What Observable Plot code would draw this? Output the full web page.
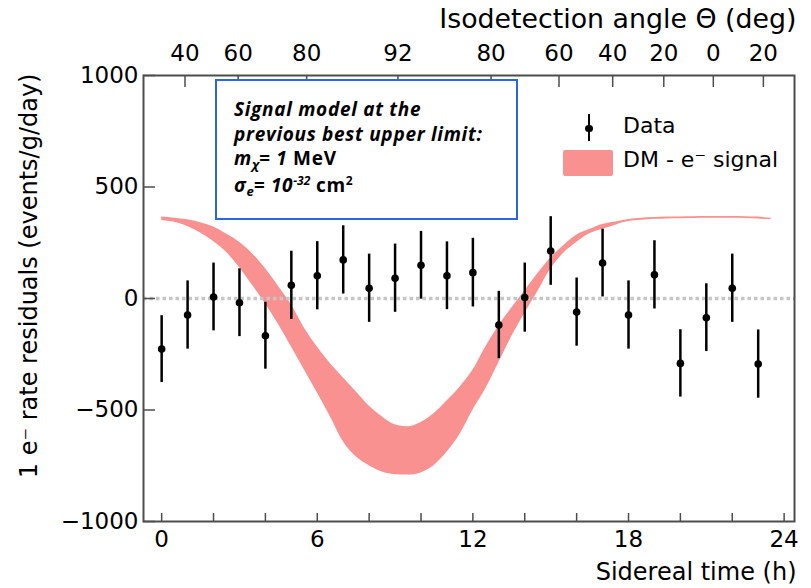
<!DOCTYPE html>
<html><head><meta charset="utf-8">
<script src="https://cdn.jsdelivr.net/npm/d3@7"></script>
<script src="https://cdn.jsdelivr.net/npm/@observablehq/plot@0.6"></script>
<style>
html,body{margin:0;padding:0;background:#fff;}
#wrap{position:relative;width:811px;height:588px;overflow:hidden;font-family:"DejaVu Sans",sans-serif;color:#000;}
#wrap svg{position:absolute;left:0;top:0;}
.box{position:absolute;left:215px;top:79px;width:303px;height:141px;box-sizing:border-box;border:2px solid #2a68e0;background:#fff;
  font-family:"Open Sans",sans-serif;font-weight:700;font-style:italic;font-size:19px;letter-spacing:0.7px;line-height:24.5px;padding:16px 0 0 17px;white-space:nowrap;}
.box .up{font-style:normal;}
.box .sub{font-size:13px;position:relative;top:4px;letter-spacing:0;}
.box .sup{font-size:12px;position:relative;top:-7px;letter-spacing:0;}
.leg{position:absolute;font-family:"DejaVu Sans",sans-serif;font-size:22px;line-height:22px;white-space:nowrap;}
.legbar{position:absolute;left:587.5px;top:114px;width:2px;height:27px;background:#000;}
.legdot{position:absolute;left:585px;top:124.5px;width:7.5px;height:7.5px;border-radius:50%;background:#000;}
.legsw{position:absolute;left:563px;top:150px;width:50px;height:26px;background:#f99191;border-radius:2px;}
</style>
</head><body>
<div id="wrap">
  <div class="box">
    <div>Signal model at the</div>
    <div>previous best upper limit:</div>
    <div>m<span class="sub">χ</span>= 1 <span class="up">MeV</span></div>
    <div>σ<span class="sub">e</span>= 10<span class="sup">-32</span> <span class="up">cm<span class="sup">2</span></span></div>
  </div>
  <div class="legbar"></div><div class="legdot"></div>
  <div class="leg" style="left:623px;top:115px;">Data</div>
  <div class="legsw"></div>
  <div class="leg" style="left:623px;top:149px;">DM - e⁻ signal</div>
</div>
<script>
// Data points (sidereal hour, residual, error)
const dataHour = [0,1,2,3,4,5,6,7,8,9,10,11,12,13,14,15,16,17,18,19,20,21,22,23];
const dataValue = [-227,-74,7,-19,-167,59,102,173,46,91,149,102,116,-119,4,213,-61,159,-74,106,-291,-86,46,-294];
const dataError = [150,153,152,152,150,153,153,153,153,153,152,152,154,151,155,154,153,152,153,153,151,152,153,153];

// DM - e- signal band
const sigHour = [0,0.5,1,1.5,2,2.5,3,3.5,4,4.5,5,5.5,6,6.5,7,7.5,8,8.5,9,9.5,10,10.5,11,11.5,12,12.5,13,13.5,14,14.5,15,15.5,16,16.5,17,17.5,18,18.5,19,19.5,20,20.5,21,21.5,22,22.5,23,23.5];
const sigUpper = [365,360,353,340,321,289,252,201,134,55,-28,-132,-217,-291,-355,-418,-482,-530,-566,-575,-556,-517,-460,-398,-322,-216,-123,-43,35,111,182,237,284,309,332,343,354,360,363,365,366,367,368,368,368,367,365,360];
const sigLower = [350,342,323,294,256,207,139,59,-23,-116,-216,-320,-423,-529,-641,-710,-750,-778,-790,-792,-782,-750,-690,-610,-501,-404,-288,-170,-67,30,132,203,251,290,311,329,345,351,355,357,358,359,360,360,360,359,357,353];

// Axes
const xTickHours = [0,2,4,6,8,10,12,14,16,18,20,22,24];
const xLabelHours = [0,6,12,18,24];
const yTicks = [-1000,-500,0,500,1000];
const angleTickHours = [0.9,2.95,5.59,9.11,12.7,15.32,17.39,19.36,21.27,23.2];
const angleTickLabels = ["40","60","80","92","80","60","40","20","0","20"];

const W = 811, H = 588, mL = 143, mR = 17, mT = 75, mB = 67;
const innerW = W - mL - mR, innerH = H - mT - mB;
const points = dataHour.map((h, i) => ({h, v: dataValue[i], e: dataError[i]}));
const band = sigHour.map((h, i) => ({h, hi: sigUpper[i], lo: sigLower[i]}));
const angleTicks = angleTickHours.map((h, i) => ({h, label: angleTickLabels[i]}));
const axisColor = "#4d4d4d";

const chart = Plot.plot({
  width: W, height: H,
  marginLeft: mL, marginRight: mR, marginTop: mT, marginBottom: mB,
  style: {fontFamily: "'DejaVu Sans', sans-serif", fontSize: "23px", background: "white", color: "black", overflow: "visible"},
  x: {domain: [-0.7, 24.4], ticks: xLabelHours, tickSize: 0, tickPadding: 9, label: null, tickFormat: d => String(d)},
  y: {domain: [-1000, 1000], ticks: yTicks, tickSize: 0, tickPadding: 5, label: null, tickFormat: d => d < 0 ? "\u2212" + (-d) : String(d)},
  marks: [
    Plot.areaY(band, {x: "h", y1: "lo", y2: "hi", fill: "#f99191", curve: "monotone-x"}),
    Plot.ruleY([0], {stroke: "#c6c6c6", strokeWidth: 3.5, strokeDasharray: "3.5,3"}),
    Plot.ruleX(points, {x: "h", y1: d => d.v - d.e, y2: d => d.v + d.e, stroke: "black", strokeWidth: 2.5}),
    Plot.dot(points, {x: "h", y: "v", r: 3.8, fill: "black"}),
    Plot.tickX(xTickHours, {x: d => d, insetTop: innerH - 8, stroke: axisColor, strokeWidth: 1.5}),
    Plot.tickX(angleTickHours, {x: d => d, insetBottom: innerH - 12, stroke: axisColor, strokeWidth: 1.5}),
    Plot.tickY(yTicks, {y: d => d, insetRight: innerW - 12, stroke: axisColor, strokeWidth: 1.5}),
    Plot.frame({stroke: axisColor, strokeWidth: 2}),
    Plot.text(angleTicks, {x: "h", text: "label", frameAnchor: "top", lineAnchor: "bottom", dy: -14.5, fontSize: 23}),
    Plot.text(["Isodetection angle Θ (deg)"], {text: d => d, frameAnchor: "top-right", textAnchor: "end", lineAnchor: "bottom", dx: 2, dy: -47.5, fontSize: 26.8}),
    Plot.text(["Sidereal time (h)"], {text: d => d, frameAnchor: "bottom-right", textAnchor: "end", lineAnchor: "bottom", dx: 2, dy: 58, fontSize: 24}),
    Plot.text(["1 e⁻ rate residuals (events/g/day)"], {text: d => d, frameAnchor: "top-left", rotate: -90, textAnchor: "end", lineAnchor: "middle", dx: -114, dy: -2, fontSize: 24})
  ]
});
document.getElementById("wrap").prepend(chart);
</script>
</body></html>
